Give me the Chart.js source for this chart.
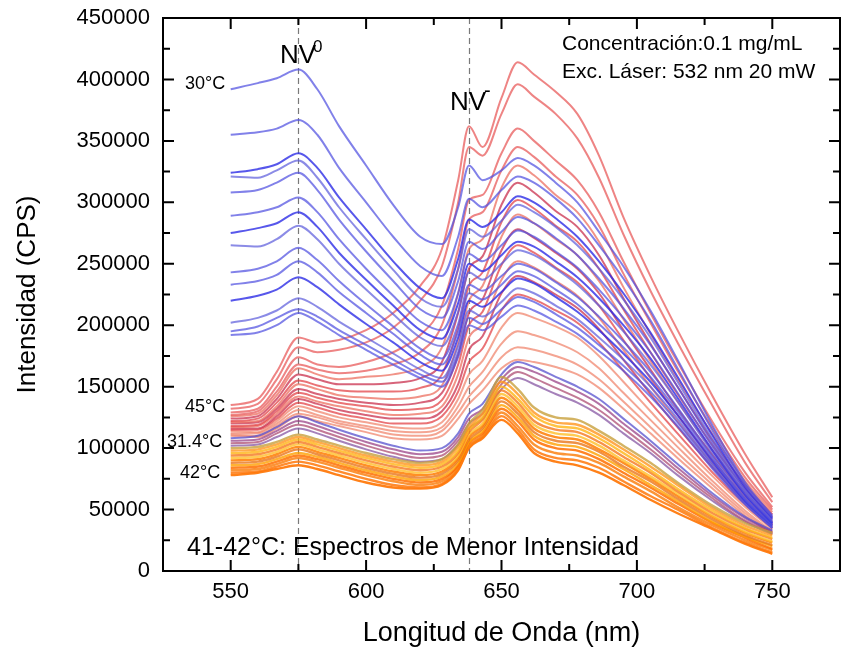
<!DOCTYPE html>
<html>
<head>
<meta charset="utf-8">
<script src="https://cdn.jsdelivr.net/npm/chart.js@4.4.1/dist/chart.umd.min.js"></script>
<style>
  html, body { margin: 0; padding: 0; background: #fff; }
</style>
</head>
<body>
<canvas id="spectra" width="843" height="652"></canvas>
<script>
const FONT = '"Liberation Sans", Arial, Helvetica, sans-serif';

// wavelength grid (nm) shared by every spectrum
const wavelength = [550, 560, 567, 575, 582, 590, 600, 610, 620, 628, 634, 638, 643, 650, 656, 662, 670, 678, 686, 695, 705, 715, 728, 740, 750];

// intensities in kCPS, one row per acquisition
// cold runs (30 °C and following)
const blueRuns = [
  [392, 397, 401, 408, 392, 362, 330, 298, 272, 266, 296, 330, 318, 326, 336, 330, 316, 300, 276, 248, 212, 172, 118, 72, 45],
  [355, 357, 360, 367, 355, 328, 300, 272, 248, 240, 272, 303, 296, 310, 321, 316, 303, 287, 265, 238, 204, 165, 114, 70, 44],
  [324, 327, 331, 340, 328, 304, 278, 252, 230, 222, 254, 286, 280, 292, 305, 300, 287, 272, 252, 226, 194, 158, 110, 68, 43],
  [321, 320, 326, 334, 320, 296, 270, 245, 222, 215, 246, 278, 272, 285, 298, 292, 280, 265, 246, 221, 190, 154, 107, 66, 42],
  [308, 310, 316, 324, 310, 286, 260, 236, 213, 206, 236, 268, 262, 276, 288, 283, 271, 257, 238, 214, 184, 150, 104, 65, 41],
  [289, 292, 296, 304, 292, 270, 246, 224, 203, 196, 226, 258, 252, 265, 277, 272, 260, 247, 229, 206, 178, 145, 101, 63, 40],
  [275, 279, 283, 292, 280, 259, 237, 216, 196, 189, 218, 250, 244, 257, 268, 264, 252, 239, 222, 200, 173, 141, 98, 62, 39],
  [265, 264, 270, 281, 270, 250, 229, 209, 190, 183, 211, 243, 237, 250, 261, 257, 246, 233, 216, 195, 168, 138, 96, 61, 39],
  [243, 246, 252, 263, 253, 236, 217, 199, 181, 173, 201, 233, 228, 240, 250, 246, 235, 223, 207, 187, 162, 133, 93, 59, 38],
  [233, 236, 241, 252, 243, 227, 210, 193, 176, 168, 195, 226, 221, 233, 244, 240, 229, 217, 201, 182, 158, 130, 91, 58, 37],
  [220, 224, 229, 239, 231, 217, 201, 186, 170, 163, 190, 220, 215, 227, 238, 234, 223, 211, 196, 177, 154, 127, 89, 57, 37],
  [202, 206, 212, 222, 215, 203, 190, 177, 164, 157, 183, 212, 207, 219, 230, 226, 216, 205, 190, 172, 150, 124, 87, 56, 36],
  [195, 199, 206, 213, 207, 196, 184, 172, 160, 154, 178, 206, 201, 213, 223, 219, 209, 198, 184, 167, 146, 121, 85, 55, 35],
  [192, 194, 200, 210, 203, 192, 180, 168, 157, 150, 174, 200, 196, 207, 216, 212, 203, 193, 179, 163, 142, 118, 83, 54, 35]
];

// warm runs (up to 45 °C)
const redRuns = [
  [135, 140, 162, 190, 186, 188, 196, 210, 232, 262, 318, 362, 345, 385, 414, 404, 390, 372, 338, 288, 240, 196, 142, 95, 60],
  [132, 136, 156, 182, 178, 180, 186, 198, 220, 248, 300, 345, 338, 372, 396, 386, 372, 352, 320, 274, 228, 186, 134, 88, 56],
  [129, 132, 150, 174, 168, 166, 170, 178, 192, 216, 262, 302, 306, 340, 360, 350, 334, 318, 292, 252, 210, 170, 121, 80, 52],
  [127, 130, 146, 168, 164, 161, 163, 168, 178, 200, 246, 286, 292, 326, 345, 337, 321, 306, 281, 242, 202, 163, 116, 76, 50],
  [126, 128, 143, 165, 160, 156, 158, 160, 166, 182, 226, 262, 270, 312, 330, 322, 306, 292, 268, 231, 193, 156, 111, 73, 48],
  [124, 126, 140, 160, 156, 152, 152, 153, 157, 170, 210, 246, 256, 298, 316, 308, 293, 280, 257, 222, 185, 150, 106, 70, 46],
  [122, 124, 137, 155, 151, 147, 146, 146, 149, 160, 198, 232, 243, 284, 302, 295, 281, 268, 246, 213, 178, 144, 102, 67, 44],
  [121, 122, 134, 152, 148, 143, 141, 140, 142, 151, 186, 220, 232, 272, 290, 283, 270, 257, 236, 205, 171, 138, 98, 64, 42],
  [120, 121, 132, 148, 144, 140, 137, 135, 137, 145, 176, 210, 221, 261, 278, 271, 259, 246, 226, 196, 164, 132, 94, 62, 40],
  [118, 119, 130, 145, 141, 137, 134, 131, 132, 139, 168, 200, 211, 249, 265, 259, 247, 235, 216, 188, 157, 127, 90, 60, 38],
  [117, 118, 128, 142, 138, 134, 130, 127, 128, 134, 160, 190, 201, 237, 252, 247, 236, 224, 206, 180, 150, 122, 87, 58, 37],
  [116, 116, 126, 140, 136, 131, 127, 124, 124, 130, 152, 180, 191, 226, 240, 235, 225, 214, 197, 172, 144, 117, 84, 56, 36],
  [115, 115, 124, 137, 133, 128, 124, 120, 120, 126, 146, 170, 181, 212, 225, 221, 212, 202, 186, 163, 137, 112, 80, 54, 35],
  [114, 113, 122, 134, 130, 125, 121, 117, 116, 121, 140, 160, 171, 198, 210, 206, 199, 190, 175, 154, 130, 106, 77, 52, 34],
  [112, 112, 120, 131, 127, 122, 118, 114, 113, 117, 134, 150, 162, 185, 195, 192, 186, 178, 165, 145, 123, 101, 73, 49, 32],
  [111, 110, 118, 128, 125, 120, 116, 111, 110, 114, 129, 142, 154, 174, 182, 180, 175, 168, 156, 138, 117, 96, 70, 47, 31],
  [110, 109, 116, 126, 122, 118, 113, 108, 107, 110, 124, 136, 147, 165, 172, 170, 166, 160, 149, 132, 112, 92, 67, 45, 30]
];

// runs around 31.4 °C
const mixedRuns = [
  [108, 110, 117, 126, 121, 115, 108, 102, 98, 100, 112, 128, 136, 160, 170, 166, 158, 150, 140, 124, 106, 87, 63, 44, 33],
  [106, 107, 114, 122, 118, 112, 105, 99, 95, 97, 109, 124, 132, 156, 166, 162, 154, 146, 136, 120, 103, 84, 61, 43, 32],
  [104, 105, 112, 119, 115, 109, 102, 96, 92, 94, 106, 120, 128, 152, 162, 157, 149, 141, 131, 116, 99, 81, 59, 41, 31],
  [102, 103, 109, 116, 112, 106, 99, 93, 89, 91, 103, 116, 124, 148, 157, 152, 144, 137, 127, 112, 96, 78, 57, 40, 30]
];

// 41-42 °C, lowest intensity
const orangeRuns = [
  [100, 101, 105, 111, 107, 102, 96, 91, 88, 91, 103, 120, 131, 158, 148, 133, 125, 123, 114, 102, 88, 72, 53, 39, 31],
  [98, 99, 103, 109, 105, 100, 94, 89, 86, 89, 101, 117, 128, 154, 144, 129, 121, 119, 111, 99, 85, 70, 51, 37, 29],
  [96, 97, 101, 107, 103, 98, 92, 87, 84, 87, 98, 115, 125, 150, 140, 126, 118, 116, 108, 96, 82, 67, 49, 35, 27],
  [94, 95, 99, 105, 101, 96, 90, 85, 82, 85, 96, 113, 123, 147, 137, 122, 115, 113, 105, 93, 80, 65, 47, 34, 26],
  [92, 93, 97, 103, 99, 94, 88, 83, 80, 83, 94, 111, 120, 144, 134, 119, 112, 110, 102, 90, 77, 63, 45, 32, 24],
  [90, 91, 95, 101, 97, 92, 86, 81, 78, 81, 92, 109, 118, 141, 131, 116, 109, 107, 99, 88, 75, 61, 44, 31, 23],
  [88, 89, 93, 99, 95, 90, 84, 79, 76, 79, 90, 107, 116, 138, 128, 113, 106, 104, 97, 85, 73, 59, 42, 29, 21],
  [86, 87, 91, 96, 93, 88, 82, 77, 74, 77, 88, 105, 114, 135, 125, 110, 103, 101, 94, 83, 70, 57, 40, 28, 20],
  [84, 85, 89, 94, 91, 86, 80, 75, 72, 75, 86, 104, 112, 132, 122, 107, 100, 98, 91, 80, 68, 55, 39, 27, 18],
  [82, 83, 87, 92, 89, 84, 78, 73, 70, 73, 85, 102, 110, 129, 118, 103, 96, 94, 88, 77, 65, 52, 37, 25, 17],
  [80, 81, 85, 89, 86, 81, 75, 70, 68, 71, 83, 101, 109, 126, 115, 99, 92, 90, 84, 73, 61, 50, 35, 23, 15],
  [78, 80, 83, 86, 83, 78, 72, 68, 67, 70, 82, 100, 108, 123, 112, 96, 89, 86, 80, 70, 58, 47, 34, 22, 14]
];

const xTicks = [550, 600, 650, 700, 750];
const yTicks = [0, 50000, 100000, 150000, 200000, 250000, 300000, 350000, 400000, 450000];

const bluePalette = ['rgba(80,80,225,0.72)', 'rgba(80,80,225,0.72)', 'rgba(45,45,230,0.8)', 'rgba(90,90,220,0.7)'];
const redPalette = ['rgba(232,85,85,0.72)', 'rgba(225,55,60,0.7)', 'rgba(236,105,90,0.72)', 'rgba(200,40,70,0.72)', 'rgba(240,130,105,0.72)'];
const mixedPalette = ['rgba(85,80,205,0.75)', 'rgba(150,60,130,0.72)', 'rgba(170,70,110,0.72)', 'rgba(130,80,160,0.72)'];
const orangePalette = ['rgba(200,160,60,0.8)', 'rgba(255,150,30,0.8)', 'rgba(255,180,20,0.8)', 'rgba(245,120,30,0.8)',
  'rgba(255,190,40,0.8)', 'rgba(255,125,0,0.85)', 'rgba(232,117,26,0.8)', 'rgba(255,160,0,0.8)',
  'rgba(255,110,0,0.85)', 'rgba(250,130,20,0.85)', 'rgba(255,120,10,0.85)', 'rgba(255,115,0,0.9)'];

function toPoints(run) {
  return run.map((v, i) => ({ x: wavelength[i], y: v * 1000 }));
}

const datasets = [];
orangeRuns.forEach((run, i) => datasets.push({ data: toPoints(run), borderColor: orangePalette[i % orangePalette.length], borderWidth: 2.4 }));
mixedRuns.forEach((run, i) => datasets.push({ data: toPoints(run), borderColor: mixedPalette[i % mixedPalette.length], borderWidth: 2 }));
blueRuns.forEach((run, i) => datasets.push({ data: toPoints(run), borderColor: bluePalette[i % bluePalette.length], borderWidth: 2 }));
redRuns.forEach((run, i) => {
  const c = i < 4 ? redPalette[0] : (i > 12 ? redPalette[4] : redPalette[1 + (i % 3)]);
  datasets.push({ data: toPoints(run), borderColor: c, borderWidth: 2 });
});

// box, inward ticks on all four sides, marker lines and labels
const decorations = {
  id: 'decorations',
  beforeDatasetsDraw(chart) {
    const { ctx, chartArea: a, scales: { x } } = chart;
    ctx.save();
    ctx.strokeStyle = '#7a7a7a';
    ctx.lineWidth = 1.2;
    ctx.setLineDash([6, 4]);
    [575, 638].forEach(nm => {
      const px = Math.round(x.getPixelForValue(nm)) + 0.5;
      ctx.beginPath();
      ctx.moveTo(px, a.top);
      ctx.lineTo(px, a.bottom);
      ctx.stroke();
    });
    ctx.restore();
  },
  afterDatasetsDraw(chart) {
    const { ctx, chartArea: a, scales: { x, y } } = chart;
    ctx.save();
    ctx.strokeStyle = '#000';
    ctx.lineWidth = 2;
    ctx.strokeRect(a.left, a.top, a.right - a.left, a.bottom - a.top);

    ctx.beginPath();
    for (let v = 525; v <= 775; v += 25) {
      const px = x.getPixelForValue(v);
      const len = v % 50 === 0 ? 11 : 7;
      ctx.moveTo(px, a.bottom); ctx.lineTo(px, a.bottom - len);
      ctx.moveTo(px, a.top); ctx.lineTo(px, a.top + len);
    }
    for (let v = 0; v <= 450000; v += 25000) {
      const py = y.getPixelForValue(v);
      const len = v % 50000 === 0 ? 11 : 7;
      ctx.moveTo(a.left, py); ctx.lineTo(a.left + len, py);
      ctx.moveTo(a.right, py); ctx.lineTo(a.right - len, py);
    }
    ctx.stroke();

    ctx.fillStyle = '#000';
    ctx.textBaseline = 'alphabetic';
    ctx.textAlign = 'left';

    ctx.font = '26px ' + FONT;
    ctx.fillText('NV', 280, 63);
    ctx.fillText('NV', 450, 110);
    ctx.font = '17px ' + FONT;
    ctx.fillText('0', 313, 52);
    ctx.font = '20px ' + FONT;
    ctx.fillText('-', 484, 97);

    ctx.font = '18px ' + FONT;
    ctx.fillText('30°C', 185, 89);
    ctx.fillText('45°C', 185, 412);
    ctx.fillText('31.4°C', 167, 447);
    ctx.fillText('42°C', 180, 478);

    ctx.font = '21px ' + FONT;
    ctx.fillText('Concentración:0.1 mg/mL', 562, 50);
    ctx.fillText('Exc. Láser: 532 nm 20 mW', 562, 78);

    ctx.font = '25px ' + FONT;
    ctx.fillText('41-42°C: Espectros de Menor Intensidad', 187, 555);
    ctx.restore();
  }
};

new Chart(document.getElementById('spectra'), {
  type: 'line',
  data: { datasets },
  options: {
    responsive: false,
    animation: false,
    layout: { padding: { top: 18, right: 3, left: 0, bottom: 0 } },
    elements: { point: { radius: 0 }, line: { cubicInterpolationMode: 'monotone', borderJoinStyle: 'round' } },
    plugins: { legend: { display: false }, tooltip: { enabled: false } },
    scales: {
      x: {
        type: 'linear',
        min: 525,
        max: 775,
        grid: { display: false, drawTicks: false },
        border: { display: false },
        afterBuildTicks: s => { s.ticks = xTicks.map(v => ({ value: v })); },
        afterFit: s => { s.height = 81; s.paddingLeft = 0; s.paddingRight = 0; },
        ticks: { color: '#000', font: { family: FONT, size: 22 }, padding: 8, maxRotation: 0 },
        title: { display: true, text: 'Longitud de Onda (nm)', color: '#000', font: { family: FONT, size: 27 }, padding: { top: 0, bottom: 2 } }
      },
      y: {
        min: 0,
        max: 450000,
        grid: { display: false, drawTicks: false },
        border: { display: false },
        afterBuildTicks: s => { s.ticks = yTicks.map(v => ({ value: v })); },
        afterFit: s => { s.width = 163; s.paddingTop = 0; s.paddingBottom = 0; },
        ticks: { color: '#000', font: { family: FONT, size: 22 }, padding: 13, callback: v => String(v) },
        title: { display: true, text: 'Intensidad (CPS)', color: '#000', font: { family: FONT, size: 26 }, padding: { top: 12, bottom: 0 } }
      }
    }
  },
  plugins: [decorations]
});
</script>
</body>
</html>
